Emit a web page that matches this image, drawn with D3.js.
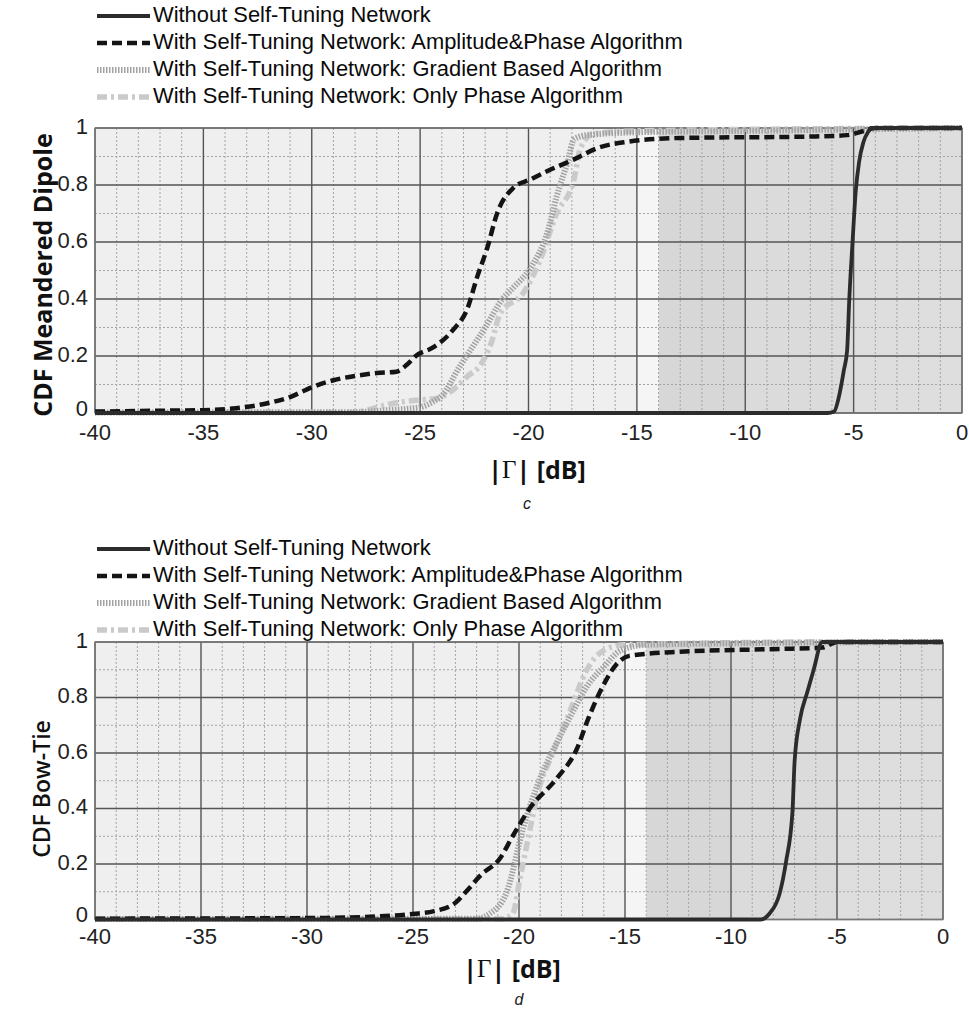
<!DOCTYPE html>
<html>
<head>
<meta charset="utf-8">
<script src="https://cdn.jsdelivr.net/npm/d3@7"></script>
<style>
  body { margin: 0; background: #fff; }
  svg { display: block; font-family: "Liberation Sans", Arial, sans-serif; }
</style>
</head>
<body>
<svg width="969" height="1012"></svg>
<script>
// tick values
const xTicks = [-40, -35, -30, -25, -20, -15, -10, -5, 0];
const yTicks = [0, 0.2, 0.4, 0.6, 0.8, 1];
const xMinor = d3.range(-39, 0).filter(v => v % 5 !== 0);
const yMinor = [0.1, 0.3, 0.5, 0.7, 0.9];

const seriesNames = [
  "Without Self-Tuning Network",
  "With Self-Tuning Network: Amplitude&Phase Algorithm",
  "With Self-Tuning Network: Gradient Based Algorithm",
  "With Self-Tuning Network: Only Phase Algorithm"
];

// background bands (dB edges) and their greys
const bandEdges = [-40, -15, -14, -10, -5, 0];
const bandFills = ["#efefef", "#f5f5f5", "#d7d7d7", "#dbdbdb", "#dedede"];

// panel c : meandered dipole  [|Γ| dB, CDF]
const dipoleWithout = [[-40, 0], [-6.2, 0], [-5.9, 0.005], [-5.7, 0.05], [-5.45, 0.15], [-5.3, 0.22],
  [-5.2, 0.4], [-5.05, 0.6], [-4.9, 0.78], [-4.75, 0.88], [-4.55, 0.95], [-4.3, 0.99], [-4.2, 1], [0, 1]];
const dipoleAmp = [[-40, 0.005], [-37, 0.008], [-35, 0.01], [-33.5, 0.017], [-32, 0.035], [-31, 0.056],
  [-30.3, 0.08], [-30, 0.09], [-29, 0.115], [-28, 0.13], [-27, 0.14], [-26.1, 0.145], [-25.6, 0.17],
  [-25.2, 0.2], [-24.4, 0.23], [-23.5, 0.29], [-22.8, 0.37], [-22.4, 0.47], [-21.9, 0.58], [-21.45, 0.7],
  [-20.7, 0.79], [-19.9, 0.82], [-19.1, 0.85], [-17.9, 0.89], [-16.8, 0.93], [-15.6, 0.95], [-13, 0.965],
  [-7, 0.97], [-5.3, 0.975], [-4.5, 0.99], [-4, 1], [0, 1]];
const dipoleGrad = [[-40, 0.002], [-28, 0.003], [-26.5, 0.01], [-25, 0.02], [-24.4, 0.04], [-24, 0.06],
  [-23.2, 0.16], [-22.6, 0.23], [-22, 0.3], [-21.2, 0.4], [-20.7, 0.44], [-19.9, 0.51], [-19.1, 0.64],
  [-18.7, 0.76], [-18.2, 0.88], [-17.9, 0.96], [-17.3, 0.975], [-15, 0.985], [-10, 0.99], [-5, 0.995], [0, 1]];
const dipolePhase = [[-40, 0.002], [-28, 0.003], [-27, 0.02], [-26.5, 0.03], [-25.2, 0.045], [-24.3, 0.05],
  [-23.5, 0.08], [-22.8, 0.13], [-22.2, 0.17], [-21.7, 0.25], [-21.3, 0.35], [-20.25, 0.42], [-19.5, 0.53],
  [-18.7, 0.7], [-17.9, 0.82], [-17.6, 0.93], [-17, 0.98], [-15, 0.99], [0, 1]];

// panel d : bow-tie
const bowWithout = [[-40, 0], [-8.6, 0], [-8.2, 0.02], [-7.7, 0.095], [-7.4, 0.21], [-7.1, 0.39],
  [-7.0, 0.57], [-6.75, 0.72], [-6.4, 0.82], [-6.1, 0.9], [-5.7, 1], [0, 1]];
const bowAmp = [[-40, 0.003], [-30, 0.005], [-27, 0.01], [-25, 0.02], [-24, 0.03], [-23, 0.06],
  [-22.5, 0.1], [-21.8, 0.16], [-20.9, 0.22], [-20.3, 0.3], [-19.5, 0.4], [-18.2, 0.51], [-17.3, 0.61],
  [-16.7, 0.73], [-16.05, 0.84], [-15.4, 0.92], [-14.8, 0.95], [-12.4, 0.965], [-7.7, 0.975],
  [-5.7, 0.98], [-5, 1], [0, 1]];
const bowGrad = [[-40, 0.002], [-22, 0.003], [-21.4, 0.02], [-20.6, 0.095], [-19.8, 0.33], [-19, 0.51],
  [-18.2, 0.64], [-17.45, 0.75], [-16.8, 0.84], [-16, 0.91], [-15.2, 0.97], [-14, 0.99], [-10, 0.995], [0, 1]];
const bowPhase = [[-40, 0.002], [-20.8, 0.003], [-20.3, 0.02], [-19.95, 0.15], [-19.6, 0.28], [-19.1, 0.46],
  [-18.4, 0.6], [-17.6, 0.75], [-16.8, 0.9], [-16, 0.97], [-15, 0.99], [-5, 1], [0, 1]];

// line looks, same order as seriesNames
const lineStyles = [
  { stroke: "#2c2c2c", width: 3.8, dash: null },
  { stroke: "#141414", width: 4.5, dash: "10,5" },
  { stroke: "#a2a2a2", width: 6, dash: "1.5,1.5" },
  { stroke: "#cacaca", width: 5.5, dash: "10,4,3,4" }
];

const panels = [
  { left: 95, right: 962, top: 128, bottom: 413, legendY: 16, tickDy: 21,
    ylabel: "CDF Meandered Dipole", ylabelX: 45, ylabelY: 275, ylabelWeight: 700, ylabelSize: 25,
    xlabelX: 537, xlabelY: 472, caption: "c", captionX: 527, captionY: 505,
    series: [dipoleWithout, dipoleAmp, dipoleGrad, dipolePhase] },
  { left: 95, right: 943, top: 642, bottom: 919.5, legendY: 549, tickDy: 19,
    ylabel: "CDF Bow-Tie", ylabelX: 44, ylabelY: 789, ylabelWeight: 600, ylabelSize: 23,
    xlabelX: 512, xlabelY: 971, caption: "d", captionX: 519, captionY: 1001,
    series: [bowWithout, bowAmp, bowGrad, bowPhase] }
];

const svg = d3.select("svg");
svg.append("rect").attr("width", 969).attr("height", 1012).attr("fill", "#fff");

panels.forEach(p => {
  const x = d3.scaleLinear().domain([-40, 0]).range([p.left, p.right]);
  const y = d3.scaleLinear().domain([0, 1]).range([p.bottom, p.top]);
  const g = svg.append("g");

  // shaded bands
  g.selectAll("rect.band")
    .data(bandFills)
    .join("rect")
    .attr("x", (d, i) => x(bandEdges[i]))
    .attr("width", (d, i) => x(bandEdges[i + 1]) - x(bandEdges[i]))
    .attr("y", p.top)
    .attr("height", p.bottom - p.top)
    .attr("fill", d => d);

  // minor grid
  g.selectAll("line.vmin").data(xMinor).join("line")
    .attr("x1", d => x(d)).attr("x2", d => x(d))
    .attr("y1", p.top).attr("y2", p.bottom)
    .attr("stroke", "#a4a4a4").attr("stroke-width", 1).attr("stroke-dasharray", "2,2");
  g.selectAll("line.hmin").data(yMinor).join("line")
    .attr("y1", d => y(d)).attr("y2", d => y(d))
    .attr("x1", p.left).attr("x2", p.right)
    .attr("stroke", "#a4a4a4").attr("stroke-width", 1).attr("stroke-dasharray", "2,2");

  // major grid
  g.selectAll("line.vmaj").data(xTicks).join("line")
    .attr("x1", d => x(d)).attr("x2", d => x(d))
    .attr("y1", p.top).attr("y2", p.bottom)
    .attr("stroke", "#555").attr("stroke-width", 1.4);
  g.selectAll("line.hmaj").data(yTicks).join("line")
    .attr("y1", d => y(d)).attr("y2", d => y(d))
    .attr("x1", p.left).attr("x2", p.right)
    .attr("stroke", "#555").attr("stroke-width", 1.4);

  g.append("rect")
    .attr("x", p.left).attr("y", p.top)
    .attr("width", p.right - p.left).attr("height", p.bottom - p.top)
    .attr("fill", "none").attr("stroke", "#777").attr("stroke-width", 1.2);

  // curves, drawn back to front
  const line = d3.line().x(d => x(d[0])).y(d => y(d[1])).curve(d3.curveMonotoneX);
  [3, 2, 1, 0].forEach(i => {
    const s = lineStyles[i];
    g.append("path")
      .datum(p.series[i])
      .attr("d", line)
      .attr("fill", "none")
      .attr("stroke", s.stroke)
      .attr("stroke-width", s.width)
      .attr("stroke-dasharray", s.dash)
      .attr("stroke-linejoin", "round");
  });

  // tick labels
  g.selectAll("text.xt").data(xTicks).join("text")
    .attr("x", d => x(d)).attr("y", p.bottom + p.tickDy)
    .attr("text-anchor", "middle").attr("dominant-baseline", "middle")
    .attr("font-size", 22).attr("fill", "#222")
    .text(d => d);
  g.selectAll("text.yt").data(yTicks).join("text")
    .attr("x", p.left - 7).attr("y", d => y(d) - (d === 0 ? 3 : 0))
    .attr("text-anchor", "end").attr("dominant-baseline", "middle")
    .attr("font-size", 22).attr("fill", "#222")
    .text(d => d);

  // y axis title
  g.append("text")
    .attr("transform", `translate(${p.ylabelX},${p.ylabelY}) rotate(-90)`)
    .attr("text-anchor", "middle").attr("dominant-baseline", "middle")
    .attr("font-family", "'Open Sans', sans-serif")
    .attr("font-weight", p.ylabelWeight).attr("font-size", p.ylabelSize).attr("fill", "#111")
    .text(p.ylabel);

  // x axis title |Γ| [dB]
  const xt = g.append("text")
    .attr("x", p.xlabelX).attr("y", p.xlabelY)
    .attr("text-anchor", "middle").attr("dominant-baseline", "middle")
    .attr("font-family", "'Open Sans', sans-serif")
    .attr("font-weight", 700).attr("font-size", 25).attr("fill", "#111");
  xt.append("tspan").text("|");
  xt.append("tspan").attr("font-family", "'Liberation Serif', serif").attr("font-weight", 400).text("Γ");
  xt.append("tspan").text("| [dB]");

  g.append("text")
    .attr("x", p.captionX).attr("y", p.captionY)
    .attr("text-anchor", "middle").attr("dominant-baseline", "middle")
    .attr("font-style", "italic").attr("font-size", 16).attr("fill", "#222")
    .text(p.caption);

  // legend
  const leg = g.append("g");
  seriesNames.forEach((name, i) => {
    const ly = p.legendY + i * 27;
    const s = lineStyles[i];
    leg.append("line")
      .attr("x1", 97).attr("x2", 150).attr("y1", ly).attr("y2", ly)
      .attr("stroke", s.stroke).attr("stroke-width", s.width)
      .attr("stroke-dasharray", s.dash);
    leg.append("text")
      .attr("x", 153).attr("y", ly)
      .attr("dominant-baseline", "middle")
      .attr("font-size", 21.9).attr("fill", "#0a0a0a")
      .text(name);
  });
});
</script>
</body>
</html>
